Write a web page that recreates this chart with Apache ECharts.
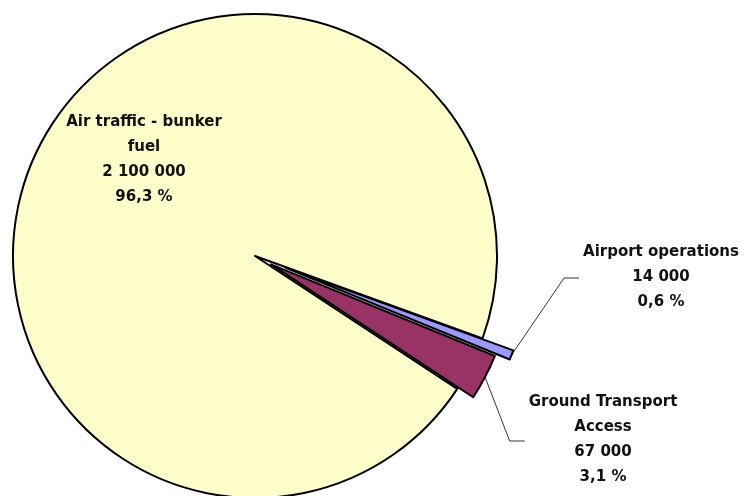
<!DOCTYPE html>
<html>
<head>
<meta charset="utf-8">
<script src="https://cdn.jsdelivr.net/npm/echarts@6/dist/echarts.min.js"></script>
<style>
html, body { margin: 0; padding: 0; background: #fff; }
#main { width: 746px; height: 496px; }
</style>
</head>
<body>
<div id="main"></div>
<script>
// data
const categories = ['Air traffic - bunker fuel', 'Airport operations', 'Ground Transport Access'];
const labelNames = ['Air traffic - bunker\nfuel', 'Airport operations', 'Ground Transport\nAccess'];
const values = [2100000, 14000, 67000];
const colors = ['#FFFFCC', '#9999FF', '#993366'];

// layout
const CENTER = [255, 256];
const RADIUS = 242;
const START_ANGLE = -33.3;
const explode = [0, 33, 18];
const labelPos = [[144, 160], [661, 277], [603, 440]];

const total = values.reduce((a, b) => a + b, 0);

function fmtValue(v) {
  return String(v).replace(/\B(?=(\d{3})+(?!\d))/g, ' ');
}
function fmtPercent(v) {
  return (v / total * 100).toFixed(1).replace('.', ',') + ' %';
}
function midAngle(i) {
  let before = 0;
  for (let k = 0; k < i; k++) before += values[k];
  const deg = -START_ANGLE + 360 * (before + values[i] / 2) / total;
  return deg * Math.PI / 180;
}

function makeSeries(i) {
  const a = midAngle(i);
  return {
    type: 'pie',
    silent: true,
    center: [CENTER[0] + explode[i] * Math.cos(a), CENTER[1] + explode[i] * Math.sin(a)],
    radius: RADIUS,
    startAngle: START_ANGLE,
    clockwise: true,
    avoidLabelOverlap: false,
    label: {
      position: i === 0 ? 'inside' : 'outside',
      fontFamily: 'DejaVu Sans',
      fontWeight: 'bold',
      fontSize: 15,
      lineHeight: 25,
      color: '#111',
      align: 'center',
      formatter: function (p) {
        return labelNames[p.dataIndex] + '\n' + fmtValue(values[p.dataIndex]) + '\n' + fmtPercent(values[p.dataIndex]);
      }
    },
    labelLine: { lineStyle: { color: '#333', width: 1 } },
    labelLayout: function (params) {
      if (params.dataIndex !== i) return {};
      const p = labelPos[i];
      const out = { x: p[0], y: p[1], align: 'center', verticalAlign: 'middle' };
      if (i > 0 && params.labelLinePoints) {
        const start = params.labelLinePoints[0];
        const endX = p[0] - params.labelRect.width / 2 - 4;
        out.labelLinePoints = [start, [endX - 15, p[1] + 1], [endX, p[1] + 1]];
      }
      return out;
    },
    data: values.map(function (v, k) {
      const on = k === i;
      return {
        name: categories[k],
        value: v,
        itemStyle: on
          ? { color: colors[k], borderColor: '#000', borderWidth: 2 }
          : { color: 'rgba(0,0,0,0)', borderWidth: 0 },
        label: { show: on },
        labelLine: { show: on && i > 0 }
      };
    })
  };
}

const chart = echarts.init(document.getElementById('main'));
chart.setOption({
  animation: false,
  backgroundColor: '#fff',
  series: [makeSeries(0), makeSeries(2), makeSeries(1)]
});
</script>
</body>
</html>
